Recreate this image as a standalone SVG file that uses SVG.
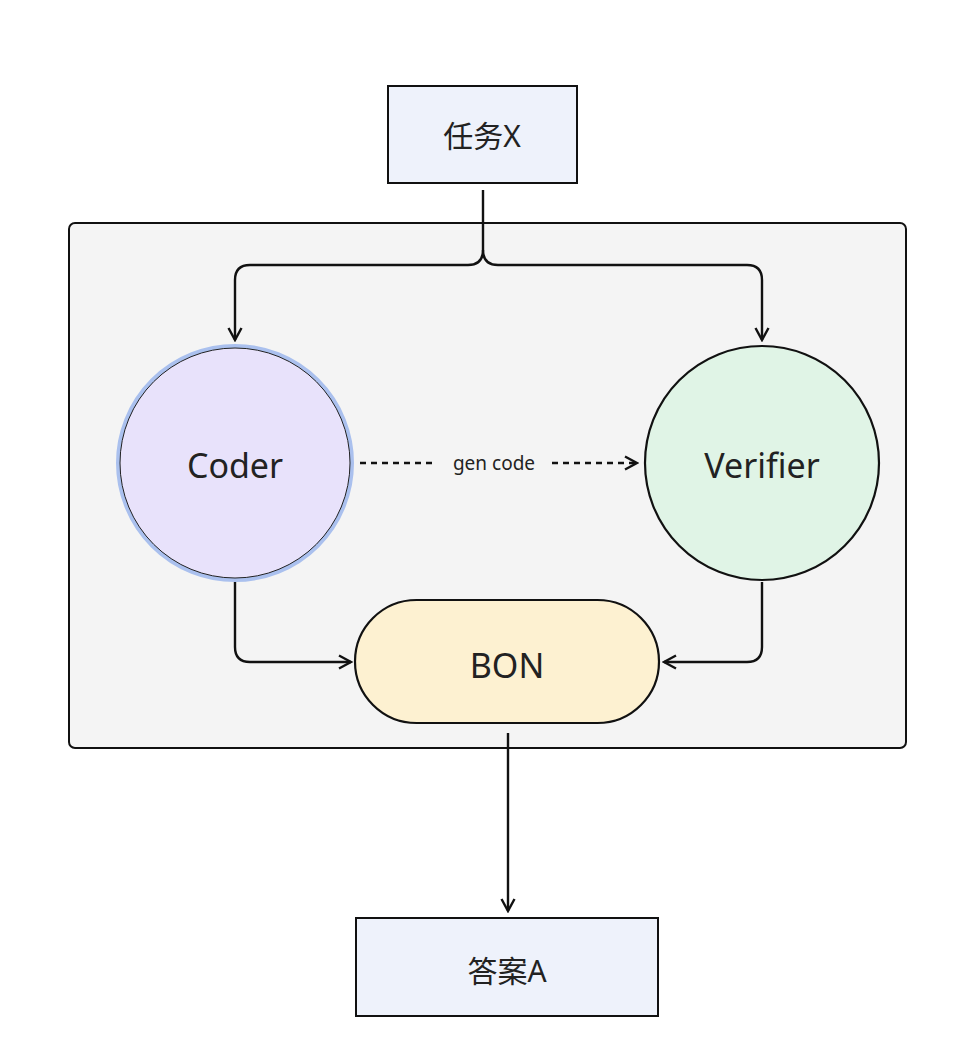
<svg xmlns="http://www.w3.org/2000/svg" width="976" height="1054" viewBox="0 0 976 1054">
<style>
.t{font-family:"Noto Sans","Noto Sans CJK SC",sans-serif;fill:#222;text-anchor:middle;dominant-baseline:central}
.c{fill:none;stroke:#111;stroke-width:2.4}
</style>
<defs><marker id="a" viewBox="0 0 16 16" refX="14" refY="8" markerWidth="16" markerHeight="16" markerUnits="userSpaceOnUse" orient="auto"><path d="M2,1.5 L14,8 L2,14.5" fill="none" stroke="#111" stroke-width="2.4"/></marker></defs>
<rect width="976" height="1054" fill="#fff"/>
<g id="container"><rect x="69" y="223" width="837" height="525" rx="6" fill="#f4f4f4" stroke="#111" stroke-width="2"/></g>
<g id="task"><rect x="388" y="86" width="189" height="97" fill="#eef2fb" stroke="#111" stroke-width="2"/><text class="t" x="482" y="135" font-size="30">任务X</text></g>
<g id="coder"><circle cx="235" cy="463" r="117" fill="#e8e2fb" stroke="#aac0ee" stroke-width="4"/><circle cx="235" cy="463" r="115" fill="none" stroke="#222" stroke-width="1"/><text class="t" x="235" y="465" font-size="34">Coder</text></g>
<g id="verifier"><circle cx="762" cy="463" r="117" fill="#e0f4e6" stroke="#111" stroke-width="2.2"/><text class="t" x="762" y="465" font-size="34">Verifier</text></g>
<g id="bon"><rect x="355" y="600" width="304" height="123" rx="61.5" fill="#fdf1d1" stroke="#111" stroke-width="2.2"/><text class="t" x="507" y="665" font-size="34">BON</text></g>
<g id="answer"><rect x="356" y="918" width="302" height="98" fill="#eef2fb" stroke="#111" stroke-width="2"/><text class="t" x="507" y="970" font-size="30">答案A</text></g>
<g id="connectors">
<path class="c" d="M483,190 V250 Q483,265 468,265 H250 Q235,265 235,280 V340" marker-end="url(#a)"/>
<path class="c" d="M483,250 Q483,265 498,265 H747 Q762,265 762,280 V340" marker-end="url(#a)"/>
<path class="c" d="M360,463 H437 M552,463 H637" stroke-dasharray="6,5" marker-end="url(#a)"/>
<text class="t" x="494" y="463" font-size="19">gen code</text>
<path class="c" d="M235,582 V647 Q235,662 250,662 H351" marker-end="url(#a)"/>
<path class="c" d="M762,582 V647 Q762,662 747,662 H664" marker-end="url(#a)"/>
<path class="c" d="M508,733 V911" marker-end="url(#a)"/>
</g>
</svg>
